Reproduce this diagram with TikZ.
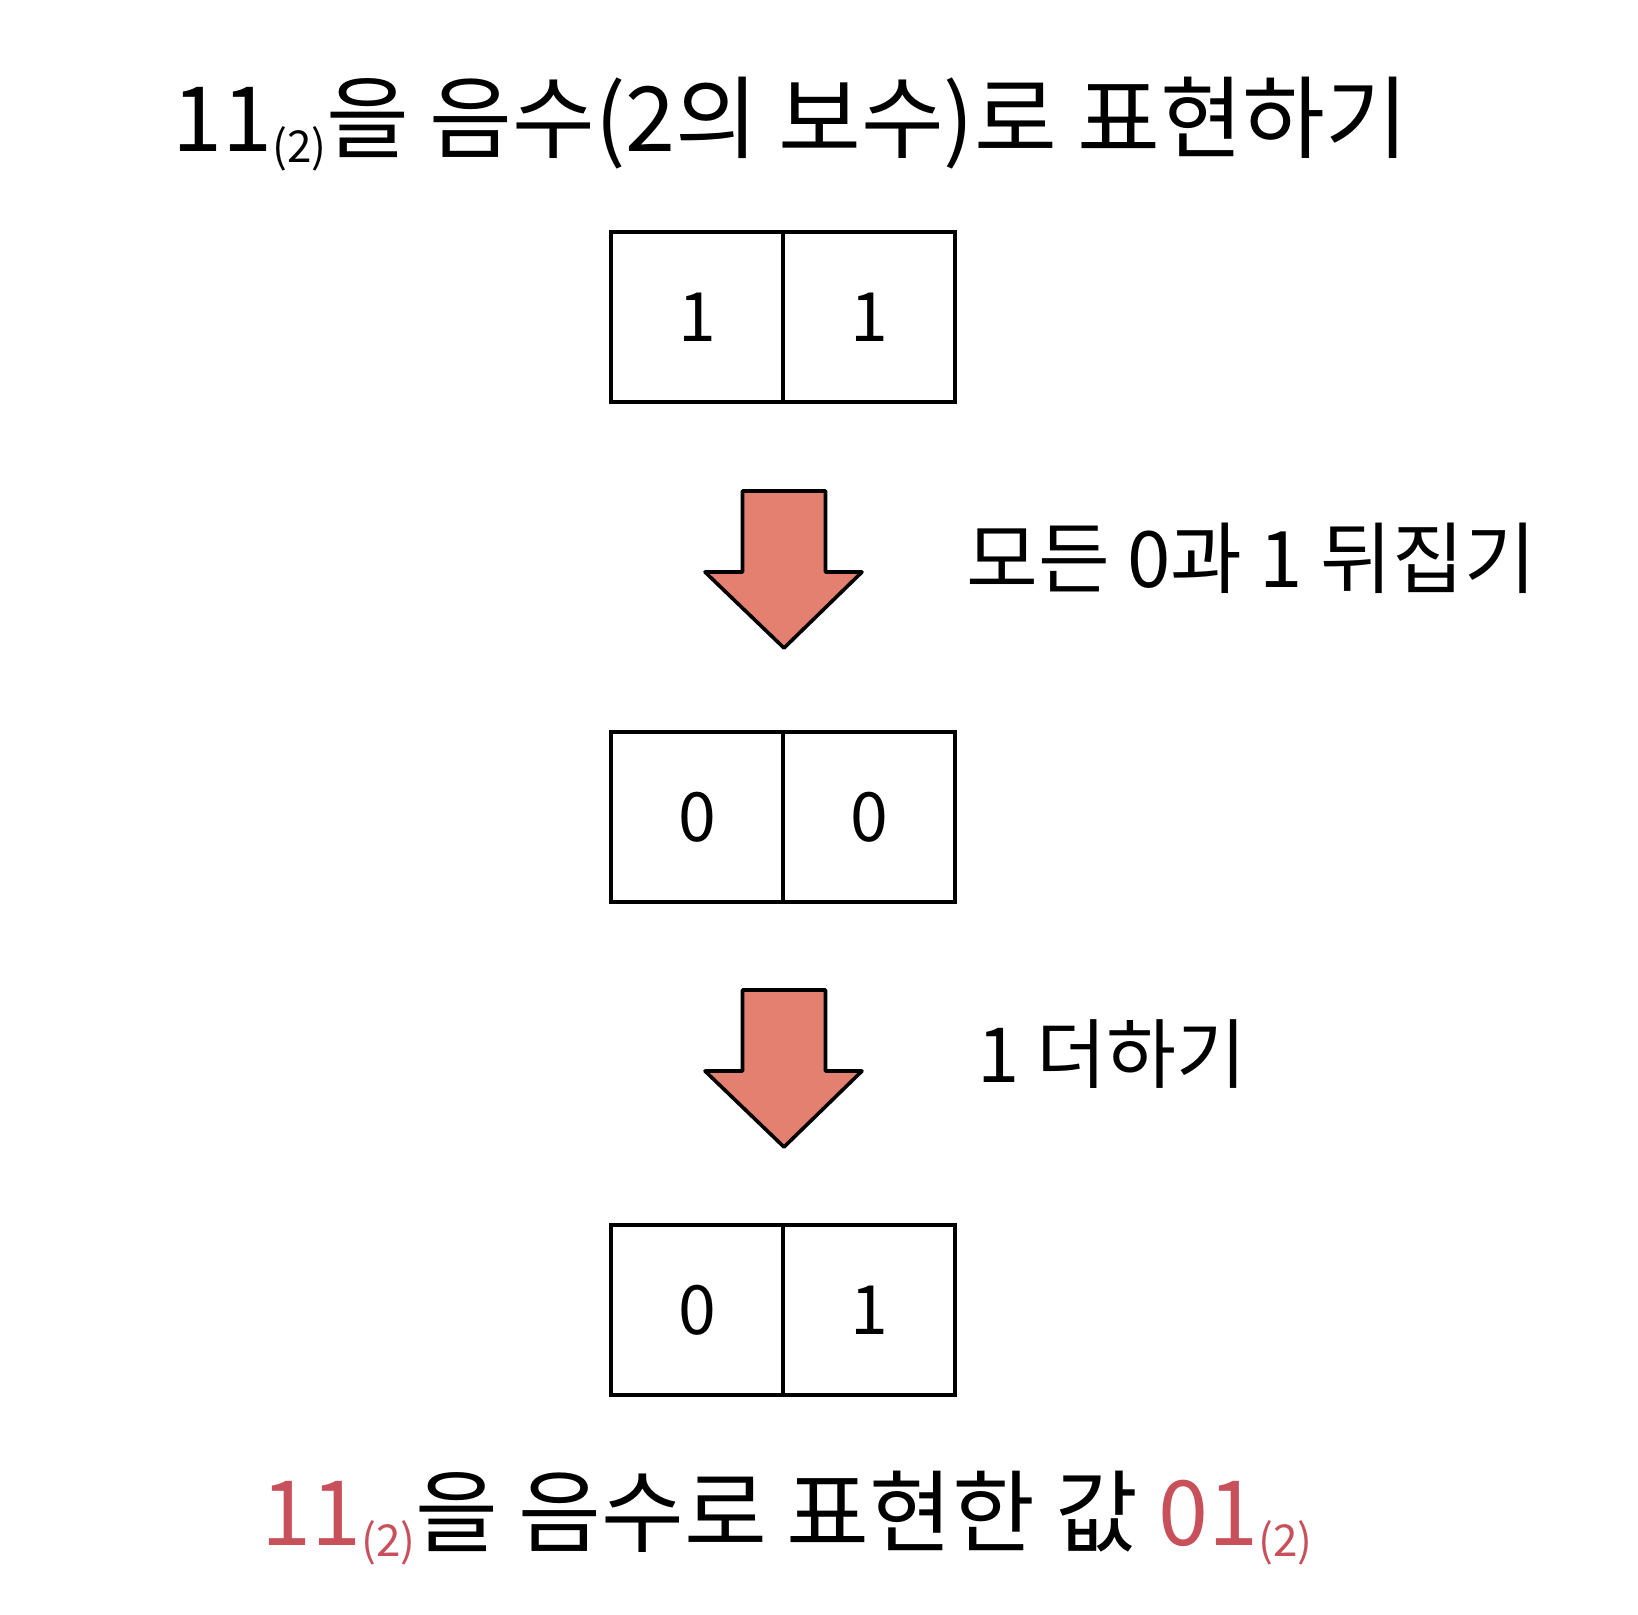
\documentclass[tikz,border=0pt]{standalone}
\usepackage{fontspec}
\setmainfont{Noto Sans CJK KR}
\usetikzlibrary{positioning}
\definecolor{arrowred}{HTML}{E3806F}
\definecolor{textred}{HTML}{C8505A}
\tikzset{
  cell/.style={draw=black, line width=2pt, outer sep=0pt, minimum width=86pt, minimum height=85pt, inner sep=0pt, font=\fontsize{34}{34}\selectfont},
  bigarrow/.style={fill=arrowred, draw=black, line width=1.8pt, line join=round},
  title/.style={font=\fontsize{45}{45}\selectfont, inner sep=0pt, anchor=west},
  steplabel/.style={font=\fontsize{39}{39}\selectfont, inner sep=0pt, anchor=west},
}
\newcommand{\subtwo}{\raisebox{-0.12em}{\fontsize{22}{22}\selectfont(2)}}
\newcommand{\bigarrowat}[1]{%
  \draw[bigarrow] ([xshift=-20.75pt]#1) -- ([xshift=20.75pt]#1) -- ([xshift=20.75pt,yshift=-40.5pt]#1)
    -- ([xshift=39pt,yshift=-40.5pt]#1) -- ([yshift=-78.5pt]#1) -- ([xshift=-39.5pt,yshift=-40.5pt]#1)
    -- ([xshift=-20.75pt,yshift=-40.5pt]#1) -- cycle;}
\begin{document}
\begin{tikzpicture}[x=0.5pt,y=-0.5pt]
\useasboundingbox[fill=white] (0,0) rectangle (1638,1614);
% title
\node[title] (title) at (172,124) {11\subtwo 을 음수(2의 보수)로 표현하기};
% first number
\node[cell] (a1) at (697,317) {1};
\node[cell, right=0pt of a1] (a2) {1};
% arrow 1
\coordinate (ar1) at (784,491);
\bigarrowat{ar1}
\node[steplabel] (l1) at (966,558) {모든 0과 1 뒤집기};
% second number
\node[cell] (b1) at (697,817) {0};
\node[cell, right=0pt of b1] (b2) {0};
% arrow 2
\coordinate (ar2) at (784,990);
\bigarrowat{ar2}
\node[steplabel, font=\fontsize{38}{38}\selectfont] (l2) at (977,1054) {1 더하기};
% third number
\node[cell] (c1) at (697,1310) {0};
\node[cell, right=0pt of c1] (c2) {1};
% result
\node[title] (res) at (261,1518) {\textcolor{textred}{11\subtwo}을 음수로 표현한 값 \textcolor{textred}{01\subtwo}};
\end{tikzpicture}
\end{document}
